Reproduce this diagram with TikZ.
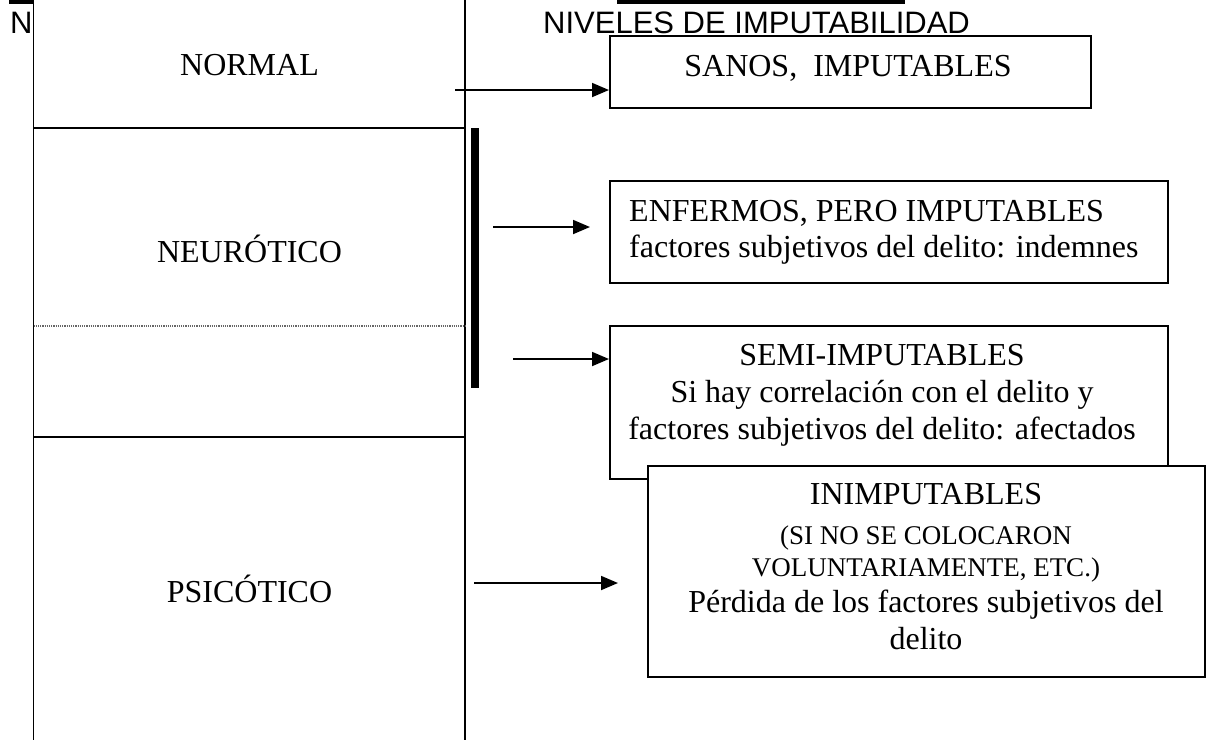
\documentclass[tikz,border=0pt]{standalone}
\usepackage{fontspec}
\setmainfont{Liberation Serif}
\newfontfamily\titlefont{Liberation Sans}
\usetikzlibrary{positioning,
                arrows.meta}                % arrow tips

\newcommand\minorfont{\fontsize{27}{32}\selectfont}

\tikzset{
  frame/.style={draw, line width=1.8pt, fill=white, anchor=north west, inner sep=0pt},
  boxtext/.style={anchor=north, inner sep=0pt, align=center, font=\fontsize{32}{37}\selectfont},
  level/.style={anchor=base, inner sep=0pt, font=\fontsize{32}{37}\selectfont},
  heading/.style={anchor=base west, inner sep=0pt, font=\titlefont\fontsize{31}{36}\selectfont},
  link/.style={line width=1.8pt, -{Triangle[length=17pt, width=14pt]}}
}

\begin{document}
\begin{tikzpicture}[x=1pt, y=-1pt]
        \useasboundingbox (0,0) rectangle (1209,740);

        % heading
        \fill (9,0) rectangle (33,3.5);
        \fill (617,0) rectangle (905,4);
        \node[heading] (n) at (10,33) {N};
        \node[heading] (title) at (543,33) {NIVELES DE IMPUTABILIDAD};

        % column of levels
        \draw[line width=1.3pt] (33.5,0) -- (33.5,740);
        \draw[line width=1.3pt] (465,0) -- (465,740);
        \draw[line width=1.3pt] (33.5,128) -- (465,128);
        \draw[line width=1.3pt] (33.5,437) -- (465,437);
        \draw[black!60, densely dotted, line width=1.2pt] (33.5,326) -- (465,326);
        \fill (471,128) rectangle (479,388);

        \node[level] (normal) at (249.5,75) {NORMAL};
        \node[level] (neurotico) at (249.5,262) {NEURÓTICO};
        \node[level] (psicotico) at (249.5,602) {PSICÓTICO};

        % boxes
        \node[frame, minimum width=481pt, minimum height=72pt] (sanos) at (609,35) {};
        \node[frame, minimum width=558pt, minimum height=102pt] (enfermos) at (609,180) {};
        \node[frame, minimum width=558pt, minimum height=153pt] (semi) at (609,325) {};
        \node[frame, minimum width=557pt, minimum height=211pt] (inimp) at (647,465) {};

        \node[boxtext] (sanos text) at (848,55) {SANOS,\ \ IMPUTABLES};
        \node[boxtext, align=left, anchor=north west] (enfermos text) at (629,200.5)
                {ENFERMOS, PERO IMPUTABLES\\[-1pt]factores subjetivos del delito: indemnes};
        \node[boxtext] (semi text) at (882,344)
                {SEMI-IMPUTABLES\\Si hay correlación con el delito y\\factores subjetivos del delito: afectados};
        \node[boxtext] (inimp text) at (926,483.5)
                {INIMPUTABLES\\[3pt]{\minorfont (SI NO SE COLOCARON}\\[-5pt]{\minorfont VOLUNTARIAMENTE, ETC.)}\\[-1pt]Pérdida de los factores subjetivos del\\delito};

        % arrows
        \coordinate (a1) at (455,90);
        \coordinate (a2) at (493,227);
        \coordinate (a2 end) at (590,227);
        \coordinate (a3) at (513,359);
        \coordinate (a4) at (474,583);
        \coordinate (a4 end) at (618,583);
        \draw[link] (a1) -- (a1 -| sanos.west);
        \draw[link] (a2) -- (a2 end);
        \draw[link] (a3) -- (a3 -| semi.west);
        \draw[link] (a4) -- (a4 end);

\end{tikzpicture}
\end{document}
